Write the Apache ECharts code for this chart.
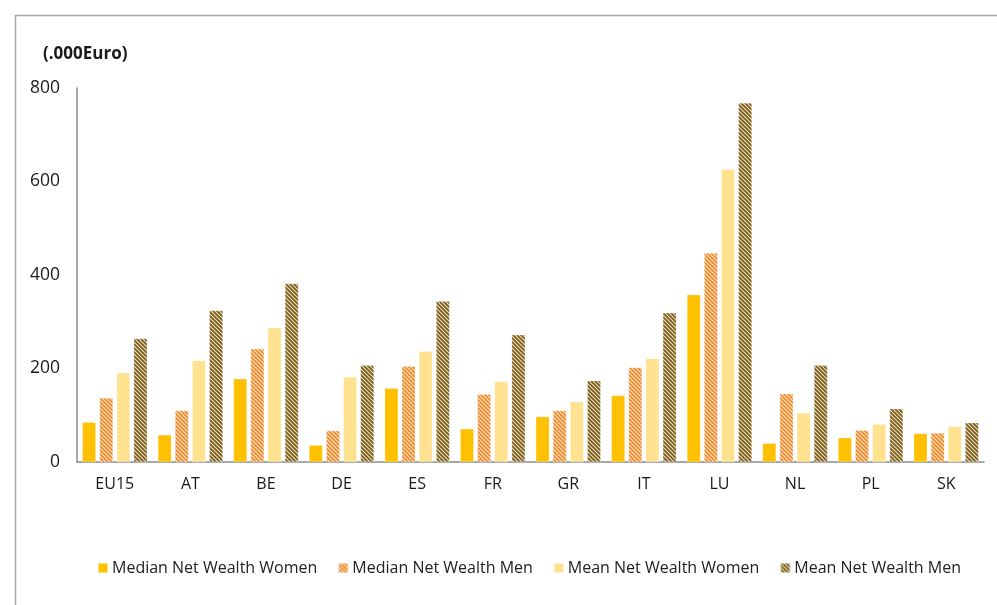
<!DOCTYPE html>
<html>
<head>
<meta charset="utf-8">
<script src="https://cdn.jsdelivr.net/npm/echarts@6/dist/echarts.min.js"></script>
<style>
html,body{margin:0;padding:0;background:#fff;}
#chart{width:997px;height:605px;}
</style>
</head>
<body>
<div id="chart"></div>
<script>
const categories = ['EU15','AT','BE','DE','ES','FR','GR','IT','LU','NL','PL','SK'];
const seriesNames = ['Median Net Wealth Women','Median Net Wealth Men','Mean Net Wealth Women','Mean Net Wealth Men'];
const medianWomen = [85, 58, 178, 36, 158, 71, 97, 142, 358, 40, 52, 61];
const medianMen   = [137, 110, 242, 67, 205, 145, 110, 202, 447, 146, 68, 62];
const meanWomen   = [191, 217, 287, 182, 237, 172, 129, 221, 626, 105, 81, 76];
const meanMen     = [264, 324, 382, 207, 344, 272, 174, 319, 768, 207, 114, 84];
const yTicks = [0, 200, 400, 600, 800];

function stripePattern(bg, fg) {
  const s = 4;
  const c = document.createElement('canvas');
  c.width = s; c.height = s;
  const ctx = c.getContext('2d');
  ctx.fillStyle = bg;
  ctx.fillRect(0, 0, s, s);
  ctx.strokeStyle = fg;
  ctx.lineWidth = 1.1;
  ctx.beginPath();
  ctx.moveTo(-1, -1); ctx.lineTo(s + 1, s + 1);
  ctx.moveTo(-1, s - 1); ctx.lineTo(1, s + 1);
  ctx.moveTo(s - 1, -1); ctx.lineTo(s + 1, 1);
  ctx.stroke();
  return { image: c, repeat: 'repeat' };
}

const FONT = 'Open Sans';
const colors = [
  '#FFC000',
  stripePattern('#EE8A2A', '#FBE3C6'),
  '#FFE28F',
  stripePattern('#7A5C16', '#E9DFC6')
];
const data = [medianWomen, medianMen, meanWomen, meanMen];

const chart = echarts.init(document.getElementById('chart'), null, {renderer: 'canvas'});
chart.setOption({
  animation: false,
  backgroundColor: '#fff',
  graphic: [{
    type: 'rect', left: 13, top: 13, silent: true,
    shape: {width: 1000, height: 700},
    style: {fill: 'none', stroke: '#A6A6A6', lineWidth: 1.5}
  }],
  title: {
    text: '(.000Euro)', left: 38, top: 41,
    textStyle: {fontFamily: FONT, fontSize: 17, fontWeight: 'bold', color: '#1a1a1a'}
  },
  legend: {
    data: seriesNames, left: 92, top: 555,
    itemWidth: 10, itemHeight: 10, itemGap: 20, icon: 'rect',
    textStyle: {fontFamily: FONT, fontSize: 16, color: '#222', padding: [0,0,0,-1]}
  },
  grid: {left: 77, right: 13, top: 88, bottom: 143, containLabel: false},
  xAxis: {
    type: 'category', data: categories,
    axisLine: {lineStyle: {color: '#8c8c8c', width: 1.5}},
    axisTick: {show: false},
    axisLabel: {fontFamily: FONT, fontSize: 16, color: '#1a1a1a', margin: 14}
  },
  yAxis: {
    type: 'value', min: yTicks[0], max: yTicks[yTicks.length-1], interval: 200,
    axisLine: {show: true, lineStyle: {color: '#8c8c8c', width: 1.5}},
    axisTick: {show: false},
    splitLine: {show: false},
    axisLabel: {fontFamily: FONT, fontSize: 17.5, color: '#1a1a1a', margin: 17}
  },
  series: seriesNames.map((n, i) => ({
    name: n, type: 'bar', data: data[i],
    barWidth: 13.5, barGap: '27%',
    itemStyle: {color: colors[i], borderColor: 'rgba(255,255,255,0.5)', borderWidth: 0.5}
  }))
});
</script>
</body>
</html>
